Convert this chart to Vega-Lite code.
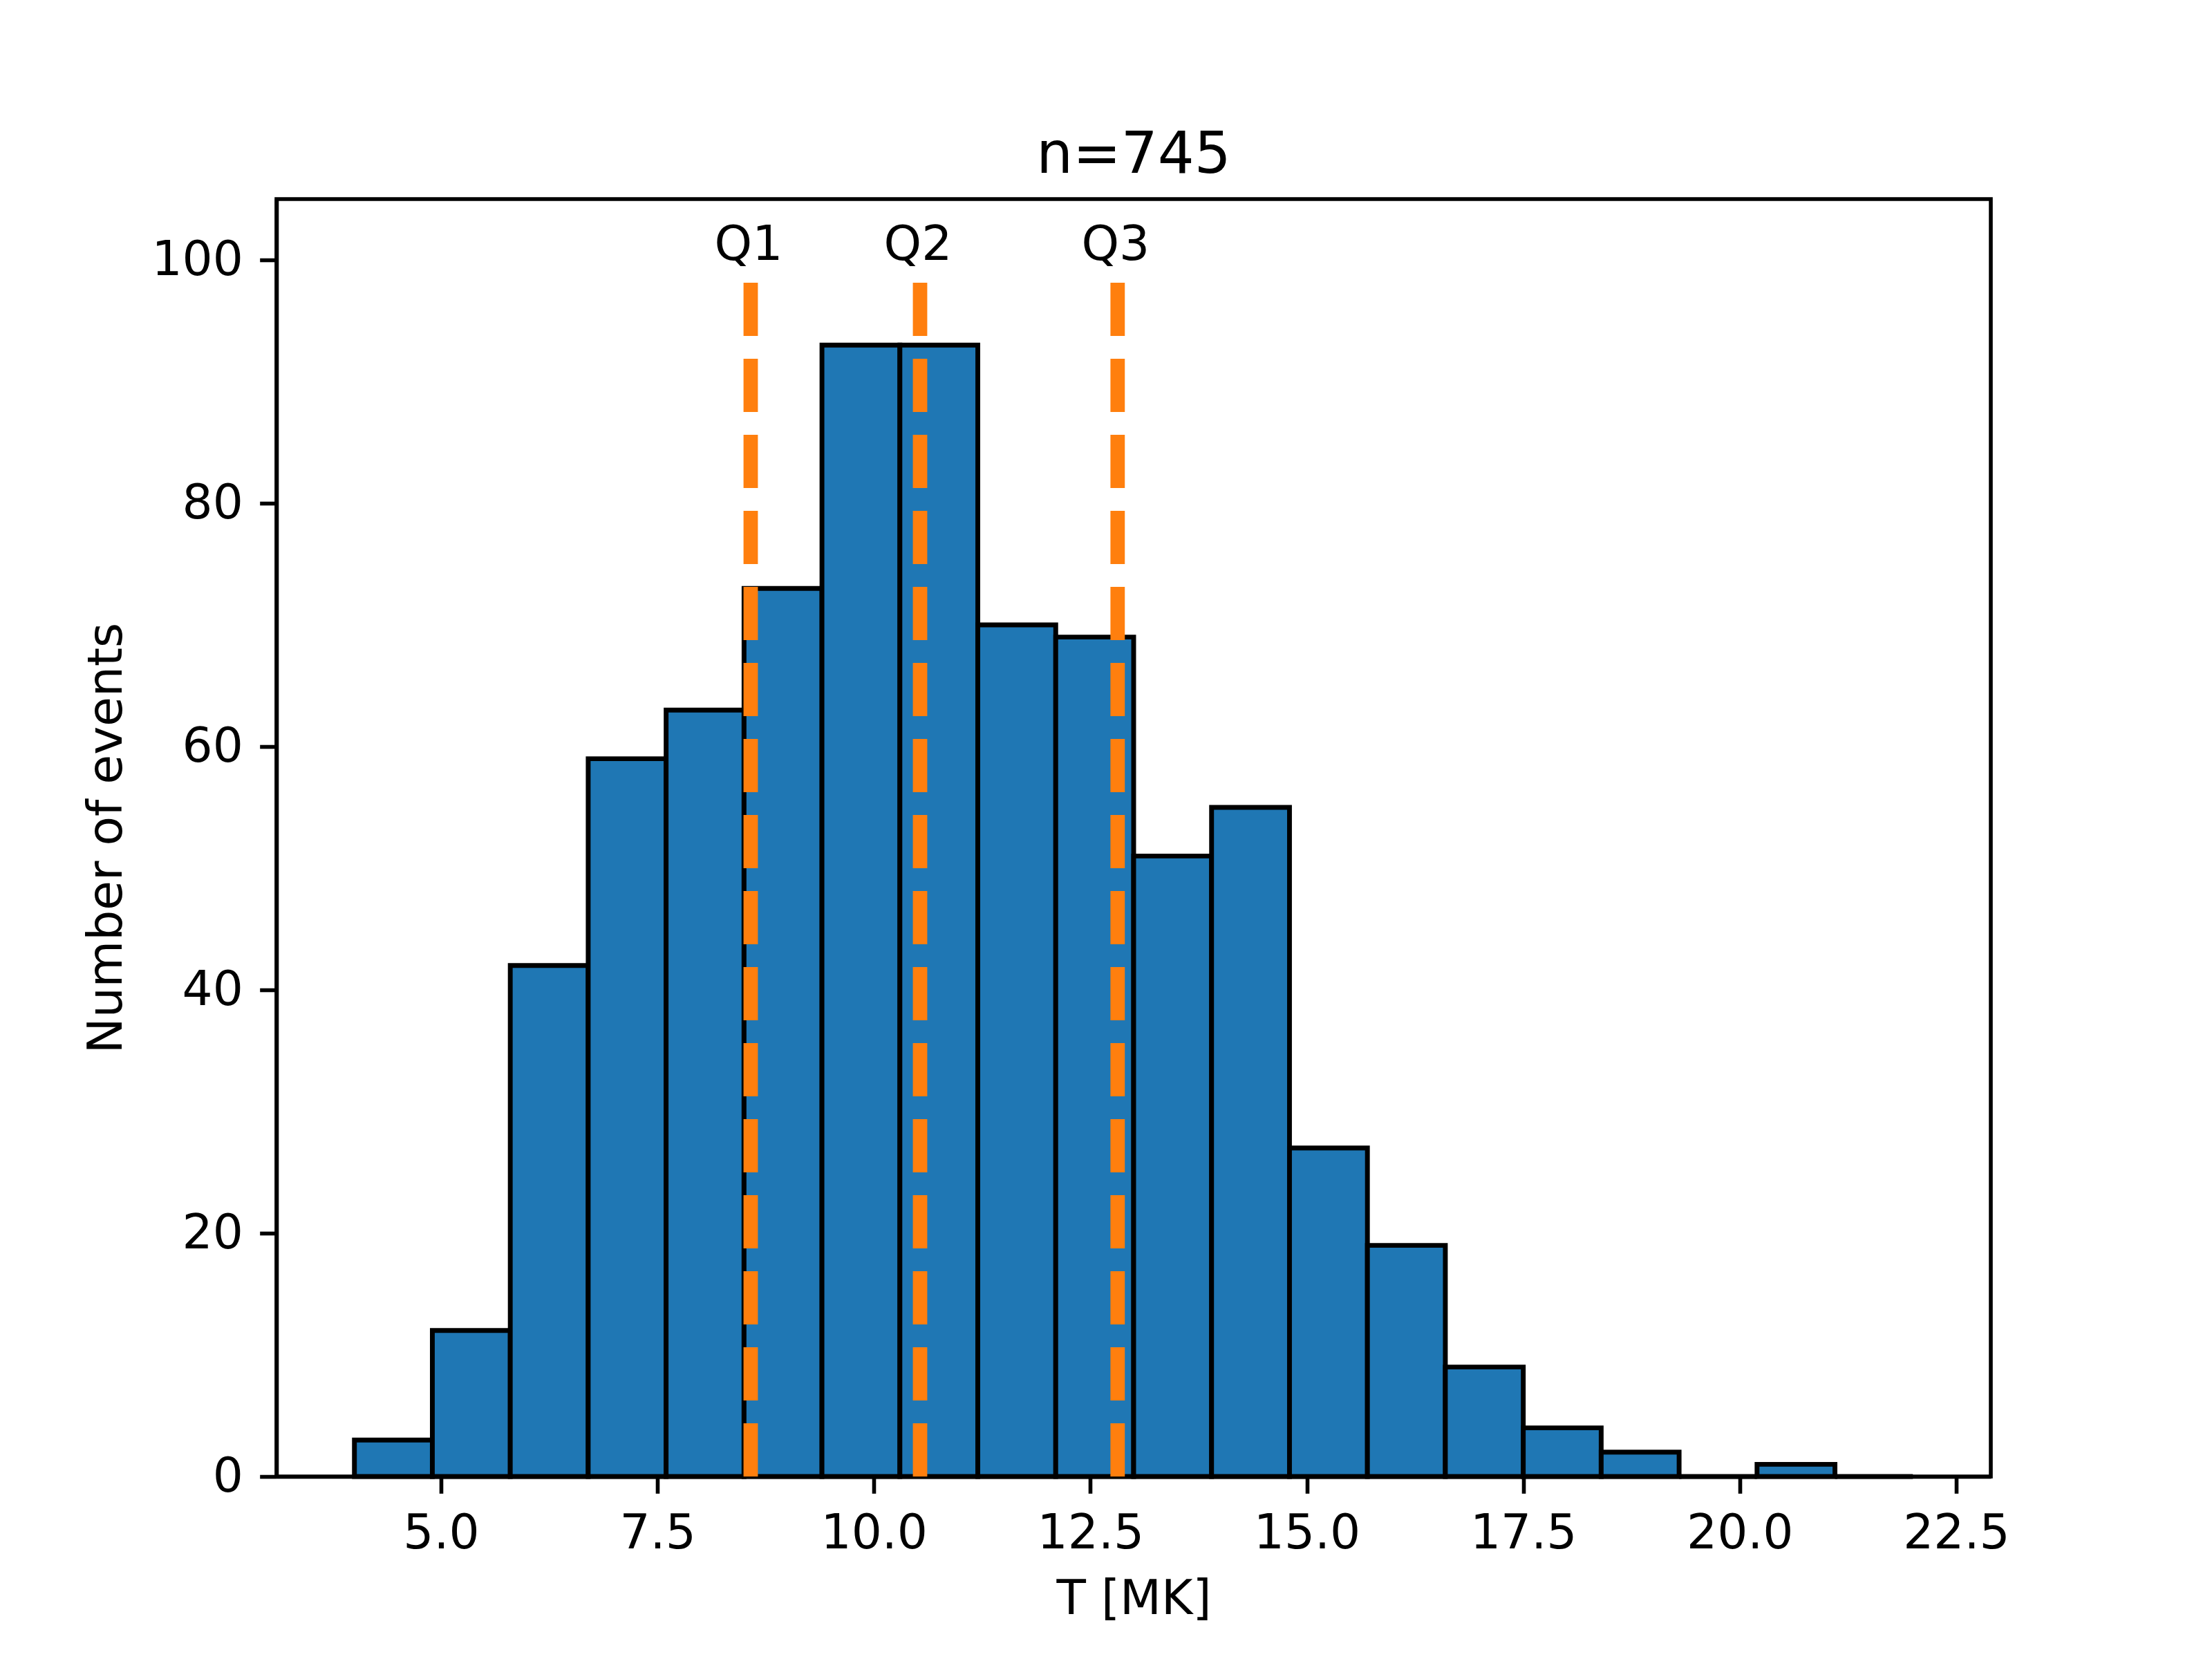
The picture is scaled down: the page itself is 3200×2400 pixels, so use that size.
{
  "$schema": "https://vega.github.io/schema/vega-lite/v6.json",
  "width": 2480,
  "height": 1848,
  "autosize": {"type": "none"},
  "padding": {"left": 400, "top": 288, "right": 320, "bottom": 264},
  "background": "white",
  "title": {
    "text": "n=745",
    "fontSize": 83.3,
    "font": "DejaVu Sans",
    "fontWeight": "normal",
    "color": "black",
    "baseline": "alphabetic",
    "offset": 25,
    "dy": 70,
    "anchor": "middle"
  },
  "datasets": {
    "bins": [
      {"t0": 4.0, "t1": 4.9, "count": 3},
      {"t0": 4.9, "t1": 5.8, "count": 12},
      {"t0": 5.8, "t1": 6.7, "count": 42},
      {"t0": 6.7, "t1": 7.6, "count": 59},
      {"t0": 7.6, "t1": 8.5, "count": 63},
      {"t0": 8.5, "t1": 9.4, "count": 73},
      {"t0": 9.4, "t1": 10.3, "count": 93},
      {"t0": 10.3, "t1": 11.2, "count": 93},
      {"t0": 11.2, "t1": 12.1, "count": 70},
      {"t0": 12.1, "t1": 13.0, "count": 69},
      {"t0": 13.0, "t1": 13.9, "count": 51},
      {"t0": 13.9, "t1": 14.8, "count": 55},
      {"t0": 14.8, "t1": 15.7, "count": 27},
      {"t0": 15.7, "t1": 16.6, "count": 19},
      {"t0": 16.6, "t1": 17.5, "count": 9},
      {"t0": 17.5, "t1": 18.4, "count": 4},
      {"t0": 18.4, "t1": 19.3, "count": 2},
      {"t0": 19.3, "t1": 20.2, "count": 0},
      {"t0": 20.2, "t1": 21.1, "count": 1},
      {"t0": 21.1, "t1": 22.0, "count": 0}
    ],
    "quartiles": [
      {"label": "Q1", "value": 8.577},
      {"label": "Q2", "value": 10.533},
      {"label": "Q3", "value": 12.815}
    ]
  },
  "layer": [
    {
      "data": {"name": "bins"},
      "mark": {"type": "rect", "fill": "#1f77b4", "stroke": "black", "strokeWidth": 6.94},
      "encoding": {
        "x": {
          "field": "t0",
          "type": "quantitative",
          "scale": {"domain": [3.1, 22.9], "nice": false, "zero": false},
          "axis": {
            "title": "T [MK]",
            "values": [5, 7.5, 10, 12.5, 15, 17.5, 20, 22.5],
            "format": ".1f",
            "titlePadding": 26
          }
        },
        "x2": {"field": "t1"},
        "y": {
          "field": "count",
          "type": "quantitative",
          "scale": {"domain": [0, 105], "nice": false},
          "axis": {
            "title": "Number of events",
            "values": [0, 20, 40, 60, 80, 100],
            "titlePadding": 28
          }
        },
        "y2": {"datum": 0}
      }
    },
    {
      "data": {"name": "quartiles"},
      "mark": {"type": "rule", "color": "#ff7f0e", "strokeWidth": 20.8, "strokeDash": [77, 33], "strokeCap": "butt"},
      "encoding": {
        "x": {"field": "value", "type": "quantitative"},
        "y": {"datum": 0},
        "y2": {"datum": 100}
      }
    },
    {
      "data": {"name": "quartiles"},
      "mark": {"type": "text", "font": "DejaVu Sans", "fontSize": 69.4, "color": "black", "align": "center", "baseline": "alphabetic", "dx": -3},
      "encoding": {
        "x": {"field": "value", "type": "quantitative"},
        "y": {"datum": 100},
        "text": {"field": "label"}
      }
    }
  ],
  "config": {
    "view": {"stroke": "black", "strokeWidth": 5.6},
    "axis": {
      "grid": false,
      "zindex": 1,
      "domainColor": "black",
      "domainWidth": 5.6,
      "tickColor": "black",
      "tickWidth": 5.6,
      "tickSize": 24.3,
      "labelPadding": 24.3,
      "labelFont": "DejaVu Sans",
      "labelFontSize": 69.4,
      "labelColor": "black",
      "titleFont": "DejaVu Sans",
      "titleFontSize": 69.4,
      "titleFontWeight": "normal",
      "titleColor": "black"
    }
  }
}
